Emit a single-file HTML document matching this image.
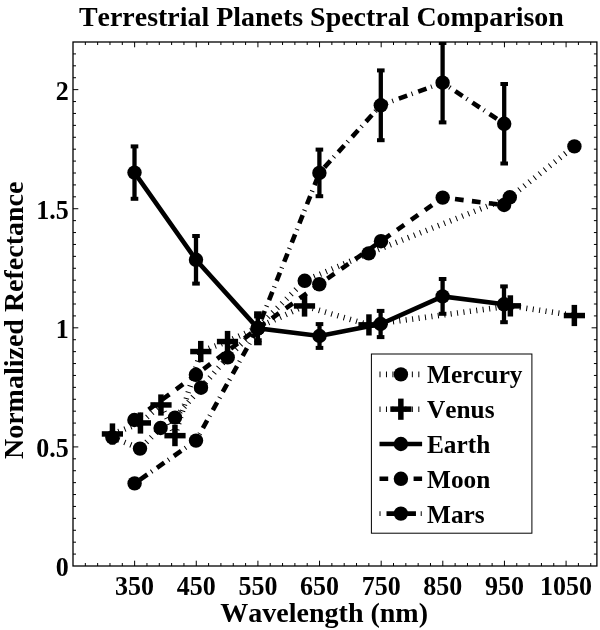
<!DOCTYPE html><html><head><meta charset="utf-8"><title>Terrestrial Planets Spectral Comparison</title>
<style>html,body{margin:0;padding:0;background:#fff}svg{display:block}text{font-family:"Liberation Serif",serif;font-weight:bold;fill:#000;font-kerning:none;font-feature-settings:"kern" 0,"liga" 0}</style></head><body>
<svg width="600" height="630" viewBox="0 0 600 630">
<rect x="0" y="0" width="600" height="630" fill="#fff"/>
<text x="321.4" y="25.7" font-size="27.95" text-anchor="middle">Terrestrial Planets Spectral Comparison</text>
<text x="324.2" y="621.8" font-size="28" text-anchor="middle">Wavelength (nm)</text>
<text transform="translate(23.0,320.3) rotate(-90)" font-size="28" text-anchor="middle">Normalized Refectance</text>
<text transform="translate(134.6,594.6) scale(1,1.06)" font-size="26" text-anchor="middle">350</text>
<text transform="translate(196.3,594.6) scale(1,1.06)" font-size="26" text-anchor="middle">450</text>
<text transform="translate(257.9,594.6) scale(1,1.06)" font-size="26" text-anchor="middle">550</text>
<text transform="translate(319.5,594.6) scale(1,1.06)" font-size="26" text-anchor="middle">650</text>
<text transform="translate(381.2,594.6) scale(1,1.06)" font-size="26" text-anchor="middle">750</text>
<text transform="translate(442.8,594.6) scale(1,1.06)" font-size="26" text-anchor="middle">850</text>
<text transform="translate(504.4,594.6) scale(1,1.06)" font-size="26" text-anchor="middle">950</text>
<text transform="translate(566.1,594.6) scale(1,1.06)" font-size="26" text-anchor="middle">1050</text>
<text transform="translate(68.8,576.0) scale(1,1.06)" font-size="26" text-anchor="end">0</text>
<text transform="translate(68.8,456.9) scale(1,1.06)" font-size="26" text-anchor="end">0.5</text>
<text transform="translate(68.8,337.8) scale(1,1.06)" font-size="26" text-anchor="end">1</text>
<text transform="translate(68.8,218.7) scale(1,1.06)" font-size="26" text-anchor="end">1.5</text>
<text transform="translate(68.8,99.6) scale(1,1.06)" font-size="26" text-anchor="end">2</text>
<defs><clipPath id="c"><rect x="73.0" y="42.0" width="523.9" height="524.0"/></clipPath></defs>
<g clip-path="url(#c)" stroke="#000" fill="none" stroke-linecap="butt" stroke-linejoin="miter">
<line x1="112.4" y1="437.4" x2="140.0" y2="448.6" stroke-width="5.6" stroke-dasharray="1 5.47" stroke-dashoffset="0.00"/>
<line x1="140.0" y1="448.6" x2="160.6" y2="428.0" stroke-width="5.6" stroke-dasharray="1 5.47" stroke-dashoffset="3.91"/>
<line x1="160.6" y1="428.0" x2="175.0" y2="417.6" stroke-width="5.6" stroke-dasharray="1 5.47" stroke-dashoffset="0.69"/>
<line x1="175.0" y1="417.6" x2="201.0" y2="387.7" stroke-width="5.6" stroke-dasharray="1 5.47" stroke-dashoffset="5.51"/>
<line x1="201.0" y1="387.7" x2="227.7" y2="357.4" stroke-width="5.6" stroke-dasharray="1 5.47" stroke-dashoffset="6.31"/>
<line x1="227.7" y1="357.4" x2="304.7" y2="280.8" stroke-width="5.6" stroke-dasharray="1 5.47" stroke-dashoffset="1.41"/>
<line x1="304.7" y1="280.8" x2="368.7" y2="253.4" stroke-width="5.6" stroke-dasharray="1 5.47" stroke-dashoffset="2.78"/>
<line x1="368.7" y1="253.4" x2="509.8" y2="197.3" stroke-width="5.6" stroke-dasharray="1 5.47" stroke-dashoffset="3.00"/>
<line x1="509.8" y1="197.3" x2="574.4" y2="146.4" stroke-width="5.6" stroke-dasharray="1 5.47" stroke-dashoffset="1.11"/>
<line x1="112.4" y1="434.0" x2="140.4" y2="423.0" stroke-width="5.6" stroke-dasharray="1 5.47" stroke-dashoffset="0.00"/>
<line x1="140.4" y1="423.0" x2="161.0" y2="405.0" stroke-width="5.6" stroke-dasharray="1 5.47" stroke-dashoffset="4.20"/>
<line x1="161.0" y1="405.0" x2="175.0" y2="435.6" stroke-width="5.6" stroke-dasharray="1 5.47" stroke-dashoffset="5.68"/>
<line x1="175.0" y1="435.6" x2="200.8" y2="351.5" stroke-width="5.6" stroke-dasharray="1 5.47" stroke-dashoffset="0.51"/>
<line x1="200.8" y1="351.5" x2="227.5" y2="341.5" stroke-width="5.6" stroke-dasharray="1 5.47" stroke-dashoffset="4.35"/>
<line x1="227.5" y1="341.5" x2="304.5" y2="306.0" stroke-width="5.6" stroke-dasharray="1 5.47" stroke-dashoffset="0.56"/>
<line x1="304.5" y1="306.0" x2="369.0" y2="324.9" stroke-width="5.6" stroke-dasharray="1 5.47" stroke-dashoffset="4.51"/>
<line x1="369.0" y1="324.9" x2="510.4" y2="305.9" stroke-width="5.6" stroke-dasharray="1 5.47" stroke-dashoffset="1.75"/>
<line x1="510.4" y1="305.9" x2="574.4" y2="315.5" stroke-width="5.6" stroke-dasharray="1 5.47" stroke-dashoffset="3.33"/>
<polyline points="134.5,172.6 196.0,259.8 257.9,328.3 319.5,336.0 380.6,324.0 442.6,296.4 504.0,304.3" stroke-width="4.6"/>
<polyline points="134.4,420.0 195.9,374.8 257.9,328.3 319.3,284.3 381.0,241.2 442.7,197.6 504.1,205.0" stroke-width="4.6" stroke-dasharray="8.7 8.34" stroke-dashoffset="16.4"/>
<polyline points="134.6,483.4 196.0,440.6 257.9,328.3 319.4,172.9 380.8,105.3 442.6,82.7 504.2,123.8" stroke-width="4.6" stroke-dasharray="1 6 8.85 4.76" stroke-dashoffset="0.3"/>
<line x1="134.5" y1="146.4" x2="134.5" y2="198.8" stroke-width="4.3"/>
<rect x="130.7" y="144.4" width="7.6" height="4" fill="#000" stroke="none"/>
<rect x="130.7" y="196.8" width="7.6" height="4" fill="#000" stroke="none"/>
<line x1="196.0" y1="236.0" x2="196.0" y2="283.6" stroke-width="4.3"/>
<rect x="192.2" y="234.0" width="7.6" height="4" fill="#000" stroke="none"/>
<rect x="192.2" y="281.6" width="7.6" height="4" fill="#000" stroke="none"/>
<line x1="257.9" y1="313.3" x2="257.9" y2="343.3" stroke-width="4.3"/>
<rect x="254.1" y="311.3" width="7.6" height="4" fill="#000" stroke="none"/>
<rect x="254.1" y="341.3" width="7.6" height="4" fill="#000" stroke="none"/>
<line x1="319.5" y1="324.1" x2="319.5" y2="347.9" stroke-width="4.3"/>
<rect x="315.7" y="322.1" width="7.6" height="4" fill="#000" stroke="none"/>
<rect x="315.7" y="345.9" width="7.6" height="4" fill="#000" stroke="none"/>
<line x1="380.6" y1="310.9" x2="380.6" y2="337.1" stroke-width="4.3"/>
<rect x="376.8" y="308.9" width="7.6" height="4" fill="#000" stroke="none"/>
<rect x="376.8" y="335.1" width="7.6" height="4" fill="#000" stroke="none"/>
<line x1="442.6" y1="279.0" x2="442.6" y2="313.8" stroke-width="4.3"/>
<rect x="438.8" y="277.0" width="7.6" height="4" fill="#000" stroke="none"/>
<rect x="438.8" y="311.8" width="7.6" height="4" fill="#000" stroke="none"/>
<line x1="504.0" y1="286.4" x2="504.0" y2="322.2" stroke-width="4.3"/>
<rect x="500.2" y="284.4" width="7.6" height="4" fill="#000" stroke="none"/>
<rect x="500.2" y="320.2" width="7.6" height="4" fill="#000" stroke="none"/>
<line x1="257.9" y1="316.4" x2="257.9" y2="340.2" stroke-width="4.3"/>
<rect x="254.1" y="314.4" width="7.6" height="4" fill="#000" stroke="none"/>
<rect x="254.1" y="338.2" width="7.6" height="4" fill="#000" stroke="none"/>
<line x1="319.4" y1="149.6" x2="319.4" y2="196.2" stroke-width="4.3"/>
<rect x="315.6" y="147.6" width="7.6" height="4" fill="#000" stroke="none"/>
<rect x="315.6" y="194.2" width="7.6" height="4" fill="#000" stroke="none"/>
<line x1="380.8" y1="70.4" x2="380.8" y2="140.2" stroke-width="4.3"/>
<rect x="377.0" y="68.4" width="7.6" height="4" fill="#000" stroke="none"/>
<rect x="377.0" y="138.2" width="7.6" height="4" fill="#000" stroke="none"/>
<line x1="442.6" y1="43.0" x2="442.6" y2="122.4" stroke-width="4.3"/>
<rect x="438.8" y="41.0" width="7.6" height="4" fill="#000" stroke="none"/>
<rect x="438.8" y="120.4" width="7.6" height="4" fill="#000" stroke="none"/>
<line x1="504.2" y1="84.0" x2="504.2" y2="163.5" stroke-width="4.3"/>
<rect x="500.4" y="82.0" width="7.6" height="4" fill="#000" stroke="none"/>
<rect x="500.4" y="161.5" width="7.6" height="4" fill="#000" stroke="none"/>
<circle cx="112.4" cy="437.4" r="7.2" fill="#000" stroke="none"/>
<circle cx="140.0" cy="448.6" r="7.2" fill="#000" stroke="none"/>
<circle cx="160.6" cy="428.0" r="7.2" fill="#000" stroke="none"/>
<circle cx="175.0" cy="417.6" r="7.2" fill="#000" stroke="none"/>
<circle cx="201.0" cy="387.7" r="7.2" fill="#000" stroke="none"/>
<circle cx="227.7" cy="357.4" r="7.2" fill="#000" stroke="none"/>
<circle cx="304.7" cy="280.8" r="7.2" fill="#000" stroke="none"/>
<circle cx="368.7" cy="253.4" r="7.2" fill="#000" stroke="none"/>
<circle cx="509.8" cy="197.3" r="7.2" fill="#000" stroke="none"/>
<circle cx="574.4" cy="146.4" r="7.2" fill="#000" stroke="none"/>
<circle cx="134.5" cy="172.6" r="7.2" fill="#000" stroke="none"/>
<circle cx="196.0" cy="259.8" r="7.2" fill="#000" stroke="none"/>
<circle cx="257.9" cy="328.3" r="7.2" fill="#000" stroke="none"/>
<circle cx="319.5" cy="336.0" r="7.2" fill="#000" stroke="none"/>
<circle cx="380.6" cy="324.0" r="7.2" fill="#000" stroke="none"/>
<circle cx="442.6" cy="296.4" r="7.2" fill="#000" stroke="none"/>
<circle cx="504.0" cy="304.3" r="7.2" fill="#000" stroke="none"/>
<circle cx="134.4" cy="420.0" r="7.2" fill="#000" stroke="none"/>
<circle cx="195.9" cy="374.8" r="7.2" fill="#000" stroke="none"/>
<circle cx="257.9" cy="328.3" r="7.2" fill="#000" stroke="none"/>
<circle cx="319.3" cy="284.3" r="7.2" fill="#000" stroke="none"/>
<circle cx="381.0" cy="241.2" r="7.2" fill="#000" stroke="none"/>
<circle cx="442.7" cy="197.6" r="7.2" fill="#000" stroke="none"/>
<circle cx="504.1" cy="205.0" r="7.2" fill="#000" stroke="none"/>
<circle cx="134.6" cy="483.4" r="7.2" fill="#000" stroke="none"/>
<circle cx="196.0" cy="440.6" r="7.2" fill="#000" stroke="none"/>
<circle cx="257.9" cy="328.3" r="7.2" fill="#000" stroke="none"/>
<circle cx="319.4" cy="172.9" r="7.2" fill="#000" stroke="none"/>
<circle cx="380.8" cy="105.3" r="7.2" fill="#000" stroke="none"/>
<circle cx="442.6" cy="82.7" r="7.2" fill="#000" stroke="none"/>
<circle cx="504.2" cy="123.8" r="7.2" fill="#000" stroke="none"/>
<rect x="101.8" y="431.2" width="21.2" height="5.5" fill="#000" stroke="none"/>
<rect x="109.7" y="423.4" width="5.5" height="21.2" fill="#000" stroke="none"/>
<rect x="129.8" y="420.2" width="21.2" height="5.5" fill="#000" stroke="none"/>
<rect x="137.7" y="412.4" width="5.5" height="21.2" fill="#000" stroke="none"/>
<rect x="150.4" y="402.2" width="21.2" height="5.5" fill="#000" stroke="none"/>
<rect x="158.2" y="394.4" width="5.5" height="21.2" fill="#000" stroke="none"/>
<rect x="164.4" y="432.9" width="21.2" height="5.5" fill="#000" stroke="none"/>
<rect x="172.2" y="425.0" width="5.5" height="21.2" fill="#000" stroke="none"/>
<rect x="190.2" y="348.8" width="21.2" height="5.5" fill="#000" stroke="none"/>
<rect x="198.0" y="340.9" width="5.5" height="21.2" fill="#000" stroke="none"/>
<rect x="216.9" y="338.8" width="21.2" height="5.5" fill="#000" stroke="none"/>
<rect x="224.8" y="330.9" width="5.5" height="21.2" fill="#000" stroke="none"/>
<rect x="293.9" y="303.2" width="21.2" height="5.5" fill="#000" stroke="none"/>
<rect x="301.8" y="295.4" width="5.5" height="21.2" fill="#000" stroke="none"/>
<rect x="358.4" y="322.1" width="21.2" height="5.5" fill="#000" stroke="none"/>
<rect x="366.2" y="314.3" width="5.5" height="21.2" fill="#000" stroke="none"/>
<rect x="499.8" y="303.1" width="21.2" height="5.5" fill="#000" stroke="none"/>
<rect x="507.6" y="295.3" width="5.5" height="21.2" fill="#000" stroke="none"/>
<rect x="563.8" y="312.8" width="21.2" height="5.5" fill="#000" stroke="none"/>
<rect x="571.6" y="304.9" width="5.5" height="21.2" fill="#000" stroke="none"/>
</g>
<rect x="371.4" y="354" width="160.5" height="179.2" fill="#fff" stroke="#000" stroke-width="1"/>
<g stroke="#000" fill="none">
<line x1="379.5" y1="374.4" x2="422.1" y2="374.4" stroke-width="5.6" stroke-dasharray="1 5.47" stroke-dashoffset="0.0"/>
<line x1="379.5" y1="409.2" x2="422.1" y2="409.2" stroke-width="5.6" stroke-dasharray="1 5.47" stroke-dashoffset="0.0"/>
<line x1="379.5" y1="444.0" x2="422.1" y2="444.0" stroke-width="4.6"/>
<line x1="379.5" y1="478.8" x2="422.1" y2="478.8" stroke-width="4.6" stroke-dasharray="8.7 8.34" stroke-dashoffset="0.0"/>
<line x1="379.5" y1="513.6" x2="422.1" y2="513.6" stroke-width="4.6" stroke-dasharray="1 6 8.85 4.76" stroke-dashoffset="0.0"/>
<circle cx="400.9" cy="374.4" r="7.2" fill="#000" stroke="none"/>
<rect x="390.3" y="406.4" width="21.2" height="5.5" fill="#000" stroke="none"/>
<rect x="398.1" y="398.6" width="5.5" height="21.2" fill="#000" stroke="none"/>
<circle cx="400.9" cy="444.0" r="7.2" fill="#000" stroke="none"/>
<circle cx="400.9" cy="478.8" r="7.2" fill="#000" stroke="none"/>
<circle cx="400.9" cy="513.6" r="7.2" fill="#000" stroke="none"/>
</g>
<text x="427" y="383.4" font-size="25.3">Mercury</text>
<text x="427" y="418.2" font-size="25.3">Venus</text>
<text x="427" y="453.0" font-size="25.3">Earth</text>
<text x="427" y="487.8" font-size="25.3">Moon</text>
<text x="427" y="522.6" font-size="25.3">Mars</text>
<g stroke="#000" stroke-width="1" fill="none">
<rect x="73.0" y="42.0" width="523.9" height="524.0" stroke-width="1.3"/>
<path d="M85.33 42.00v3.0M85.33 566.00v-3.0M97.65 42.00v3.0M97.65 566.00v-3.0M109.98 42.00v3.0M109.98 566.00v-3.0M122.31 42.00v3.0M122.31 566.00v-3.0M134.64 42.00v5.3M134.64 566.00v-5.3M146.96 42.00v3.0M146.96 566.00v-3.0M159.29 42.00v3.0M159.29 566.00v-3.0M171.62 42.00v3.0M171.62 566.00v-3.0M183.94 42.00v3.0M183.94 566.00v-3.0M196.27 42.00v5.3M196.27 566.00v-5.3M208.60 42.00v3.0M208.60 566.00v-3.0M220.92 42.00v3.0M220.92 566.00v-3.0M233.25 42.00v3.0M233.25 566.00v-3.0M245.58 42.00v3.0M245.58 566.00v-3.0M257.91 42.00v5.3M257.91 566.00v-5.3M270.23 42.00v3.0M270.23 566.00v-3.0M282.56 42.00v3.0M282.56 566.00v-3.0M294.89 42.00v3.0M294.89 566.00v-3.0M307.21 42.00v3.0M307.21 566.00v-3.0M319.54 42.00v5.3M319.54 566.00v-5.3M331.87 42.00v3.0M331.87 566.00v-3.0M344.20 42.00v3.0M344.20 566.00v-3.0M356.52 42.00v3.0M356.52 566.00v-3.0M368.85 42.00v3.0M368.85 566.00v-3.0M381.18 42.00v5.3M381.18 566.00v-5.3M393.50 42.00v3.0M393.50 566.00v-3.0M405.83 42.00v3.0M405.83 566.00v-3.0M418.16 42.00v3.0M418.16 566.00v-3.0M430.48 42.00v3.0M430.48 566.00v-3.0M442.81 42.00v5.3M442.81 566.00v-5.3M455.14 42.00v3.0M455.14 566.00v-3.0M467.47 42.00v3.0M467.47 566.00v-3.0M479.79 42.00v3.0M479.79 566.00v-3.0M492.12 42.00v3.0M492.12 566.00v-3.0M504.45 42.00v5.3M504.45 566.00v-5.3M516.77 42.00v3.0M516.77 566.00v-3.0M529.10 42.00v3.0M529.10 566.00v-3.0M541.43 42.00v3.0M541.43 566.00v-3.0M553.76 42.00v3.0M553.76 566.00v-3.0M566.08 42.00v5.3M566.08 566.00v-5.3M578.41 42.00v3.0M578.41 566.00v-3.0M590.74 42.00v3.0M590.74 566.00v-3.0M73.00 554.09h3.0M596.90 554.09h-3.0M73.00 542.18h3.0M596.90 542.18h-3.0M73.00 530.27h3.0M596.90 530.27h-3.0M73.00 518.36h3.0M596.90 518.36h-3.0M73.00 506.45h3.0M596.90 506.45h-3.0M73.00 494.55h3.0M596.90 494.55h-3.0M73.00 482.64h3.0M596.90 482.64h-3.0M73.00 470.73h3.0M596.90 470.73h-3.0M73.00 458.82h3.0M596.90 458.82h-3.0M73.00 446.91h5.3M596.90 446.91h-5.3M73.00 435.00h3.0M596.90 435.00h-3.0M73.00 423.09h3.0M596.90 423.09h-3.0M73.00 411.18h3.0M596.90 411.18h-3.0M73.00 399.27h3.0M596.90 399.27h-3.0M73.00 387.36h3.0M596.90 387.36h-3.0M73.00 375.45h3.0M596.90 375.45h-3.0M73.00 363.55h3.0M596.90 363.55h-3.0M73.00 351.64h3.0M596.90 351.64h-3.0M73.00 339.73h3.0M596.90 339.73h-3.0M73.00 327.82h5.3M596.90 327.82h-5.3M73.00 315.91h3.0M596.90 315.91h-3.0M73.00 304.00h3.0M596.90 304.00h-3.0M73.00 292.09h3.0M596.90 292.09h-3.0M73.00 280.18h3.0M596.90 280.18h-3.0M73.00 268.27h3.0M596.90 268.27h-3.0M73.00 256.36h3.0M596.90 256.36h-3.0M73.00 244.45h3.0M596.90 244.45h-3.0M73.00 232.55h3.0M596.90 232.55h-3.0M73.00 220.64h3.0M596.90 220.64h-3.0M73.00 208.73h5.3M596.90 208.73h-5.3M73.00 196.82h3.0M596.90 196.82h-3.0M73.00 184.91h3.0M596.90 184.91h-3.0M73.00 173.00h3.0M596.90 173.00h-3.0M73.00 161.09h3.0M596.90 161.09h-3.0M73.00 149.18h3.0M596.90 149.18h-3.0M73.00 137.27h3.0M596.90 137.27h-3.0M73.00 125.36h3.0M596.90 125.36h-3.0M73.00 113.45h3.0M596.90 113.45h-3.0M73.00 101.55h3.0M596.90 101.55h-3.0M73.00 89.64h5.3M596.90 89.64h-5.3M73.00 77.73h3.0M596.90 77.73h-3.0M73.00 65.82h3.0M596.90 65.82h-3.0M73.00 53.91h3.0M596.90 53.91h-3.0"/>
</g>
</svg></body></html>
